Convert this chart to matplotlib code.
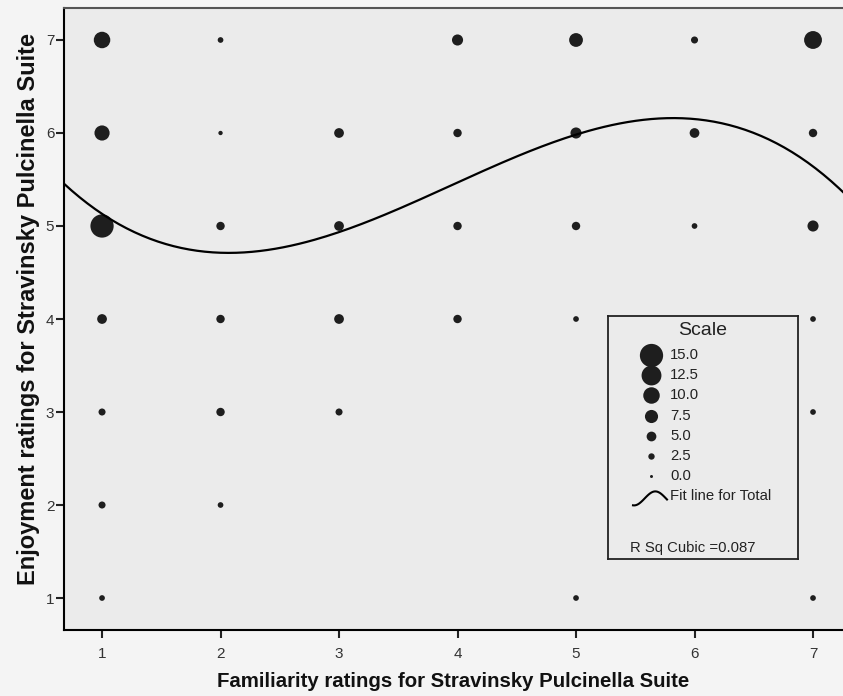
import numpy as np
import matplotlib.pyplot as plt

plt.rcParams['font.family'] = ['Liberation Sans', 'DejaVu Sans']

# bubble data: familiarity (x), enjoyment (y), number of cases
fam = [1, 2, 4, 5, 6, 7,
       1, 2, 3, 4, 5, 6, 7,
       1, 2, 3, 4, 5, 6, 7,
       1, 2, 3, 4, 5, 6, 7,
       1, 2, 3, 7,
       1, 2,
       1, 5, 7]
enj = [7, 7, 7, 7, 7, 7,
       6, 6, 6, 6, 6, 6, 6,
       5, 5, 5, 5, 5, 5, 5,
       4, 4, 4, 4, 4, 4, 4,
       3, 3, 3, 3,
       2, 2,
       1, 1, 1]
cnt = [10, 2, 6, 8, 3, 11,
       9, 1, 5, 4, 6, 5, 4,
       15, 4, 5, 4, 4, 2, 6,
       5, 4, 5, 4, 2, 2, 2,
       3, 4, 3, 2,
       3, 2,
       2, 2, 2]

# points
curve_x = [0.688, 1.011, 1.208, 1.489, 2.021, 2.333, 2.612, 3.008, 3.456,
           3.852, 4.021, 4.418, 4.975, 5.397, 5.878, 6.300, 6.662, 6.949, 7.228]
curve_y = [5.441, 5.154, 4.957, 4.796, 4.713, 4.734, 4.796, 4.957, 5.194,
           5.358, 5.473, 5.677, 5.978, 6.108, 6.147, 6.108, 5.925, 5.677, 5.387]

ticks = [1, 2, 3, 4, 5, 6, 7]
scale_vals = [15.0, 12.5, 10.0, 7.5, 5.0, 2.5, 0.0]
r_sq = 0.087


def dot_size(c):
    d_px = 3 + 1.35 * c
    return (d_px * 0.72) ** 2


W, H = 843, 696
fig = plt.figure(figsize=(W / 100, H / 100), dpi=100, facecolor='#f4f4f4')
ax = fig.add_axes([64 / W, 66 / H, 779 / W, 622 / H], facecolor='#ebebeb')

dot_col = '#1e1e1e'
ax.scatter(fam, enj, s=[dot_size(c) for c in cnt], c=dot_col, linewidths=0, zorder=3)

x0, x1 = 0.679, 7.253
xs = np.linspace(x0, x1, 200)
coef = np.polyfit(curve_x, curve_y, 3)
ax.plot(xs, np.polyval(coef, xs), color='black', lw=1.6, zorder=4)

ax.set_xlim(x0, x1)
ax.set_ylim(0.656, 7.344)
ax.set_xticks(ticks)
ax.set_yticks(ticks)
ax.spines['right'].set_visible(False)
for s in ['left', 'bottom', 'top']:
    ax.spines[s].set_linewidth(1.5)
ax.spines['top'].set_color('#555555')
ax.tick_params(direction='out', length=6, width=1.5, color='#222222',
               labelsize=11, labelcolor='#333333')
ax.tick_params(axis='y', pad=1)
ax.tick_params(axis='x', pad=6)

ax.set_xlabel('Familiarity ratings for Stravinsky Pulcinella Suite',
              fontsize=14.7, fontweight='bold', color='#111111')
ax.set_ylabel('Enjoyment ratings for Stravinsky Pulcinella Suite',
              fontsize=17, fontweight='bold', color='#111111')
ax.xaxis.label.set_va('center')
ax.yaxis.label.set_va('center')
ax.xaxis.set_label_coords(0.5, -0.083)
ax.yaxis.set_label_coords(-0.046, 0.516)

# legend panel, laid out in pixel units
lx0, ly0, lx1, ly1 = 608, 316, 798, 559
lg = fig.add_axes([lx0 / W, 1 - ly1 / H, (lx1 - lx0) / W, (ly1 - ly0) / H],
                  facecolor='#ebebeb')
lg.set_xlim(lx0, lx1)
lg.set_ylim(ly1, ly0)
lg.set_xticks([])
lg.set_yticks([])
for s in lg.spines.values():
    s.set_linewidth(1.3)
    s.set_color('#222222')

lg.text(703, 331, 'Scale', fontsize=14, ha='center', va='center', color='#222222')
row_y = 355
for v in scale_vals:
    lg.scatter([651], [row_y], s=dot_size(v), c=dot_col, linewidths=0)
    lg.text(670, row_y, f'{v:.1f}', fontsize=10.7, va='center', color='#222222')
    row_y += 20.2
t = np.linspace(0, 1, 50)
lg.plot(633 + 34 * t, row_y + 2 - 7 * np.sin(np.pi * (1.6 * t - 0.55)),
        color='black', lw=1.5)
lg.text(670, row_y, 'Fit line for Total', fontsize=10.7, va='center', color='#222222')
lg.text(630, 548, f'R Sq Cubic ={r_sq}', fontsize=10.7, va='center', color='#222222')

fig.savefig('out.png', dpi=100, facecolor=fig.get_facecolor())
